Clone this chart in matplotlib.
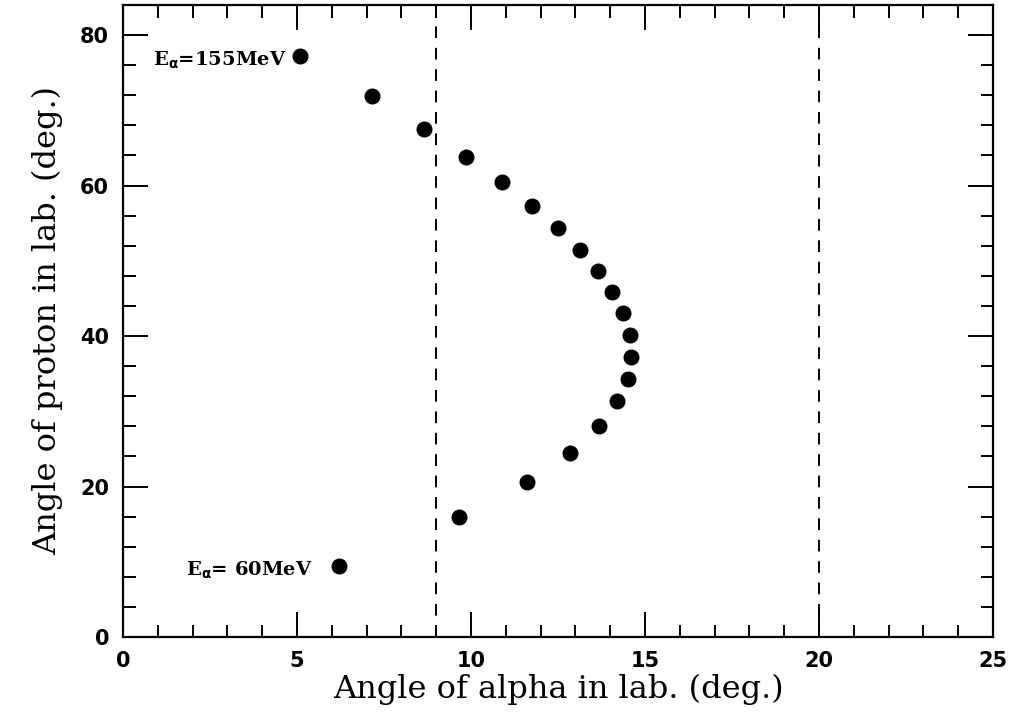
import numpy as np
import matplotlib.pyplot as plt
from matplotlib.ticker import MultipleLocator

# kinematic locus: alpha lab angle vs proton lab angle (E_alpha 155 -> 60 MeV)
alpha_angle = [5.09, 7.15, 8.65, 9.86, 10.88, 11.74, 12.49, 13.13, 13.65, 14.06,
               14.37, 14.56, 14.60, 14.51, 14.20, 13.69, 12.86, 11.61, 9.66, 6.22]
proton_angle = [77.2, 71.85, 67.5, 63.8, 60.5, 57.3, 54.3, 51.4, 48.7, 45.8,
                43.0, 40.2, 37.2, 34.3, 31.3, 28.1, 24.5, 20.6, 15.9, 9.44]
cut_lines = [9, 20]

fig = plt.figure(figsize=(10.12, 7.24), dpi=100)
ax = fig.add_axes([0.1215, 0.1202, 0.8597, 0.8729])

ax.plot(alpha_angle, proton_angle, 'o', color='black', markersize=10.5, linestyle='none')
for xc in cut_lines:
    ax.axvline(xc, color='black', linestyle=(0, (6, 5)), linewidth=1.4)

ax.text(0.86, 76.6, r'E$_{\mathbf{\alpha}}$=155MeV', fontsize=14, fontweight='bold',
        family='DejaVu Serif', va='center', ha='left')
ax.text(1.81, 8.9, r'E$_{\mathbf{\alpha}}$= 60MeV', fontsize=14, fontweight='bold',
        family='DejaVu Serif', va='center', ha='left')

ax.set_xlim(0, 25)
ax.set_ylim(0, 84)
ax.xaxis.set_major_locator(MultipleLocator(5))
ax.xaxis.set_minor_locator(MultipleLocator(1))
ax.yaxis.set_major_locator(MultipleLocator(20))
ax.yaxis.set_minor_locator(MultipleLocator(4))
ax.tick_params(which='both', direction='in', top=True, right=True, width=1.4)
ax.tick_params(which='major', length=18, pad=10, labelsize=15)
ax.tick_params(which='minor', length=9)
for lbl in ax.get_xticklabels() + ax.get_yticklabels():
    lbl.set_fontweight('bold')
for s in ax.spines.values():
    s.set_linewidth(1.6)

ax.set_xlabel('Angle of alpha in lab. (deg.)', family='DejaVu Serif', fontsize=23, labelpad=2)
ax.set_ylabel('Angle of proton in lab. (deg.)', family='DejaVu Serif', fontsize=23, labelpad=12)

fig.savefig('out.png', dpi=100)
